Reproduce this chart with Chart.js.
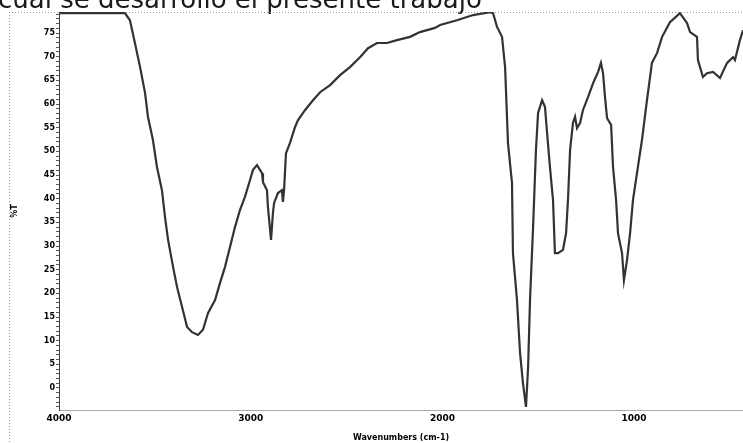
<!DOCTYPE html>
<html>
<head>
<meta charset="utf-8">
<script src="https://cdn.jsdelivr.net/npm/chart.js@4/dist/chart.umd.min.js"></script>
<style>
  body { margin: 0; background: #fff; }
  canvas { display: block; }
</style>
</head>
<body>
<canvas id="ir" width="743" height="443"></canvas>
<script>
// Spectrum (wavenumber cm-1 -> %T)
const wavenumbers = [4000, 3656, 3630, 3604, 3577, 3551, 3536, 3510, 3489, 3463, 3447, 3431, 3405, 3384, 3358, 3332, 3306, 3275, 3249, 3223,
  3186, 3160, 3134, 3108, 3082, 3056, 3030, 3004, 2988, 2967, 2941, 2936, 2915, 2910, 2894, 2884, 2878, 2858, 2837, 2832,
  2826, 2816, 2795, 2769, 2753, 2717, 2675, 2638, 2586, 2534, 2482, 2430, 2388, 2341, 2289, 2237, 2169, 2117, 2039, 2012,
  1924, 1840, 1752, 1736, 1715, 1689, 1673, 1658, 1637, 1632, 1611, 1595, 1580, 1564, 1553, 1543, 1527, 1512, 1501, 1480,
  1465, 1454, 1439, 1423, 1413, 1397, 1371, 1355, 1345, 1334, 1319, 1308, 1298, 1282, 1267, 1240, 1214, 1188, 1173, 1162,
  1152, 1141, 1120, 1110, 1094, 1084, 1063, 1053, 1037, 1021, 1006, 985, 959, 933, 907, 880, 854, 813, 761, 724,
  708, 672, 667, 641, 620, 588, 552, 515, 484, 474, 448, 432];
const transmittance = [79.2, 79.2, 77.7, 72.9, 67.8, 62.3, 57.3, 52.4, 46.7, 41.8, 36.1, 31.3, 25.6, 21.3, 17.1, 12.9, 11.8, 11.2, 12.3, 15.8,
  18.6, 22.2, 25.6, 29.8, 34.0, 37.6, 40.4, 43.9, 46.1, 47.1, 45.4, 43.5, 41.8, 38.2, 31.3, 37.0, 39.1, 41.2, 41.8, 39.3,
  41.8, 49.6, 51.8, 55.1, 56.6, 58.7, 60.8, 62.5, 64.0, 66.1, 67.8, 69.9, 71.8, 72.9, 72.9, 73.5, 74.2, 75.2, 76.1, 76.7,
  77.7, 78.8, 79.4, 79.2, 76.3, 74.2, 67.8, 51.8, 43.3, 28.5, 18.6, 7.4, 1.1, -4.0, 4.4, 18.6, 34.0, 50.3, 58.1, 60.8,
  59.4, 53.9, 46.7, 39.7, 28.5, 28.5, 29.2, 32.7, 39.7, 50.3, 56.0, 57.3, 54.9, 56.0, 58.7, 61.5, 64.4, 66.8, 68.7, 66.5,
  61.5, 57.0, 55.6, 46.7, 39.7, 32.7, 28.5, 22.8, 27.0, 32.7, 39.7, 45.4, 52.4, 60.8, 68.7, 70.8, 74.2, 77.3, 79.2, 77.1,
  75.2, 74.2, 69.3, 65.7, 66.5, 66.8, 65.5, 68.7, 69.9, 69.3, 73.5, 75.6];

const xTicks = [4000, 3000, 2000, 1000];
const yTicks = [];
for (let v = -4; v <= 79; v++) yTicks.push(v); // minor tick every 1, label every 5

const points = wavenumbers.map((w, i) => ({ x: w, y: transmittance[i] }));

// scan frame + cropped caption from the page above
const decor = {
  id: 'decor',
  beforeDraw(chart) {
    const ctx = chart.ctx;
    ctx.save();
    ctx.fillStyle = '#fff';
    ctx.fillRect(0, 0, chart.width, chart.height);
    ctx.fillStyle = '#1a1a1a';
    ctx.font = '26px "DejaVu Sans"';
    ctx.textBaseline = 'alphabetic';
    ctx.fillText('cual se desarrollo el presente trabajo', -2, 8);
    ctx.strokeStyle = '#999';
    ctx.lineWidth = 1;
    ctx.setLineDash([1, 2]);
    ctx.beginPath();
    ctx.moveTo(9, chart.chartArea.top + 0.5);
    ctx.lineTo(chart.width, chart.chartArea.top + 0.5);
    ctx.moveTo(9.5, chart.chartArea.top);
    ctx.lineTo(9.5, chart.height);
    ctx.stroke();
    ctx.restore();
  }
};

new Chart(document.getElementById('ir'), {
  type: 'line',
  data: {
    datasets: [{
      data: points,
      borderColor: '#333',
      borderWidth: 2.2,
      pointRadius: 0,
      tension: 0,
      fill: false
    }]
  },
  options: {
    responsive: false,
    animation: false,
    layout: { padding: { top: 12, left: 10, right: 0, bottom: 0 } },
    plugins: { legend: { display: false }, tooltip: { enabled: false } },
    scales: {
      x: {
        type: 'linear',
        reverse: true,
        min: 432,
        max: 4000,
        afterBuildTicks: s => { s.ticks = xTicks.map(v => ({ value: v })); },
        afterFit: s => { s.height = 33; },
        grid: { drawOnChartArea: false, drawTicks: false },
        border: { color: '#aaa', dash: [2, 3] },
        ticks: {
          padding: 3,
          maxRotation: 0,
          autoSkip: false,
          color: '#000',
          font: { family: 'DejaVu Sans', size: 9, weight: 'bold' },
          callback: v => String(v)
        },
        title: {
          display: true,
          text: 'Wavenumbers (cm-1)',
          color: '#000',
          padding: 0,
          font: { family: 'DejaVu Sans', size: 8, weight: 'bold' }
        }
      },
      y: {
        min: -4.65,
        max: 79.45,
        afterBuildTicks: s => { s.ticks = yTicks.map(v => ({ value: v })); },
        afterFit: s => { s.width = 49; },
        grid: { drawOnChartArea: false, tickLength: 3, color: '#555' },
        border: { color: '#444' },
        ticks: {
          padding: 1,
          autoSkip: false,
          color: '#000',
          font: { family: 'DejaVu Sans', size: 8, weight: 'bold' },
          callback: v => (v % 5 === 0 ? String(v) : '')
        },
        title: {
          display: true,
          text: '%T',
          color: '#000',
          padding: 0,
          font: { family: 'DejaVu Sans', size: 8, weight: 'bold' }
        }
      }
    }
  },
  plugins: [decor]
});
</script>
</body>
</html>
